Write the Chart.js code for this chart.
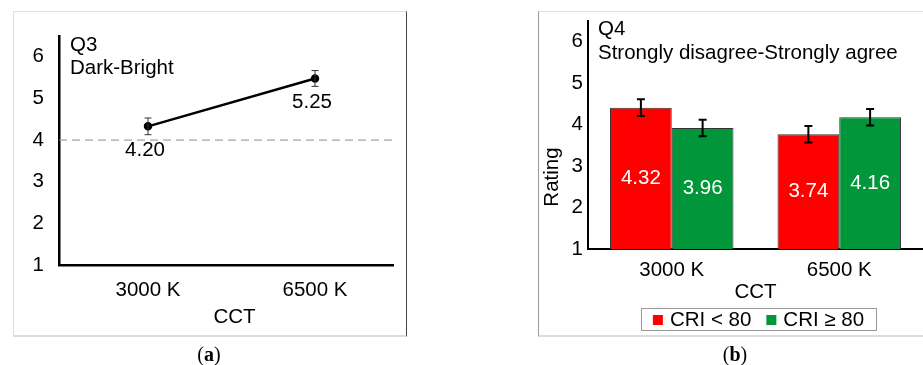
<!DOCTYPE html>
<html>
<head>
<meta charset="utf-8">
<script src="https://cdn.jsdelivr.net/npm/chart.js@4.4.0/dist/chart.umd.min.js"></script>
<style>
body { margin: 0; background: #fff; }
#page { position: relative; width: 923px; height: 365px; overflow: hidden; }
.box { position: absolute; box-sizing: border-box; }
#boxA { left: 13px; top: 11px; width: 394px; height: 326px; border-left: 1px solid #e0e0e0; border-top: 1px solid #e0e0e0; border-right: 1px solid #444; border-bottom: 2px solid #dcdcdc; }
#boxB { left: 538px; top: 11px; width: 400px; height: 326px; border-left: 1px solid #999; border-top: 1px solid #e0e0e0; border-bottom: 2px solid #dcdcdc; }
canvas { position: absolute; top: 0; }
#chartA { left: 0; }
#chartB { left: 520px; }
.cap { position: absolute; top: 343px; transform: translateX(-50%); font-family: "Liberation Serif", "Times New Roman", serif; font-size: 20px; line-height: 23px; }
</style>
</head>
<body>
<div id="page">
  <div class="box" id="boxA"></div>
  <div class="box" id="boxB"></div>
  <canvas id="chartA" width="410" height="345"></canvas>
  <canvas id="chartB" width="403" height="345"></canvas>
  <div class="cap" style="left:209px">(<b>a</b>)</div>
  <div class="cap" style="left:735px">(<b>b</b>)</div>
</div>
<script>
const categories = ['3000 K', '6500 K'];
const yTicks = [1, 2, 3, 4, 5, 6];

// (a) Q3 Dark-Bright
const q3Means = [4.33, 5.48];
const q3Errors = [0.2, 0.19];
const q3Labels = ['4.20', '5.25'];
const q3Neutral = 4;

// (b) Q4 Strongly disagree-Strongly agree
const seriesNames = ['CRI < 80', 'CRI ≥ 80'];
const criLow = [4.41, 3.77];
const criHigh = [3.92, 4.18];
const criLowErrors = [0.2, 0.2];
const criHighErrors = [0.2, 0.2];
const criLowLabels = ['4.32', '3.74'];
const criHighLabels = ['3.96', '4.16'];

Chart.defaults.font.family = '"Liberation Sans", Arial, sans-serif';
Chart.defaults.font.size = 20.5;
Chart.defaults.color = '#000';

const FONT = '20.5px "Liberation Sans", Arial, sans-serif';

// error bars from dataset.errors
const errorBars = {
  id: 'errorBars',
  afterDatasetsDraw(chart, args, opts) {
    const ctx = chart.ctx;
    const y = chart.scales.y;
    chart.data.datasets.forEach((ds, i) => {
      if (!ds.errors) return;
      chart.getDatasetMeta(i).data.forEach((el, j) => {
        const v = typeof ds.data[j] === 'object' ? ds.data[j].y : ds.data[j];
        const top = y.getPixelForValue(v + ds.errors[j]);
        const bot = y.getPixelForValue(v - ds.errors[j]);
        ctx.save();
        ctx.strokeStyle = opts.color;
        ctx.lineWidth = opts.width;
        ctx.beginPath();
        ctx.moveTo(el.x, top); ctx.lineTo(el.x, bot);
        ctx.moveTo(el.x - opts.cap, top); ctx.lineTo(el.x + opts.cap, top);
        ctx.moveTo(el.x - opts.cap, bot); ctx.lineTo(el.x + opts.cap, bot);
        ctx.stroke();
        ctx.restore();
      });
    });
  }
};

// printed values next to points / inside bars
const valueLabels = {
  id: 'valueLabels',
  afterDatasetsDraw(chart, args, opts) {
    const ctx = chart.ctx;
    chart.data.datasets.forEach((ds, i) => {
      if (!ds.valueLabels) return;
      chart.getDatasetMeta(i).data.forEach((el, j) => {
        ctx.save();
        ctx.font = FONT;
        ctx.fillStyle = opts.color;
        ctx.textAlign = 'center';
        ctx.textBaseline = 'middle';
        let tx, ty;
        if (opts.mode === 'center') {
          tx = el.x;
          ty = (el.y + Math.min(el.base, chart.chartArea.bottom)) / 2;
        } else {
          tx = el.x - 3;
          ty = el.y + 24;
        }
        ctx.fillText(ds.valueLabels[j], tx, ty);
        ctx.restore();
      });
    });
  }
};

// question text in the top left of the plot, plus hand-placed axis titles
const notes = {
  id: 'notes',
  afterDraw(chart, args, opts) {
    const ctx = chart.ctx;
    ctx.save();
    ctx.font = FONT;
    ctx.fillStyle = '#000';
    ctx.textBaseline = 'middle';
    opts.lines.forEach((t, k) => ctx.fillText(t, chart.chartArea.left + opts.dx, opts.y[k]));
    if (opts.xTitle) {
      const xs = chart.scales.x;
      const mid = (xs.getPixelForValue(0) + xs.getPixelForValue(1)) / 2 + opts.xTitle.dx;
      ctx.textAlign = 'center';
      ctx.fillText(opts.xTitle.text, mid, opts.xTitle.y);
    }
    if (opts.yTitle) {
      ctx.translate(opts.yTitle.x, opts.yTitle.y);
      ctx.rotate(-Math.PI / 2);
      ctx.textAlign = 'center';
      ctx.fillText(opts.yTitle.text, 0, 0);
    }
    ctx.restore();
  }
};

const neutralLine = {
  id: 'neutralLine',
  beforeDatasetsDraw(chart, args, opts) {
    const ctx = chart.ctx;
    const yp = chart.scales.y.getPixelForValue(opts.value);
    ctx.save();
    ctx.strokeStyle = '#8c8c8c';
    ctx.lineWidth = 1;
    ctx.setLineDash([8, 5]);
    ctx.beginPath();
    ctx.moveTo(chart.chartArea.left, yp);
    ctx.lineTo(chart.chartArea.right, yp);
    ctx.stroke();
    ctx.restore();
  }
};

const boxLegend = {
  id: 'boxLegend',
  afterDraw(chart, args, opts) {
    const ctx = chart.ctx;
    ctx.save();
    ctx.font = FONT;
    const items = chart.data.datasets.map(ds => ({ text: ds.label, color: ds.backgroundColor, w: ctx.measureText(ds.label).width }));
    const pad = 12, sq = 10, gap = 7, between = 15;
    let total = pad * 2 + between * (items.length - 1);
    items.forEach(it => total += sq + gap + it.w);
    const cx = (chart.chartArea.left + chart.chartArea.right) / 2 + 3;
    let x = cx - total / 2;
    const top = opts.top, h = 22;
    ctx.strokeStyle = '#999';
    ctx.lineWidth = 1;
    ctx.strokeRect(Math.round(x) + 0.5, top + 0.5, Math.round(total), h);
    ctx.textBaseline = 'middle';
    x += pad;
    items.forEach(it => {
      ctx.fillStyle = it.color;
      ctx.fillRect(x, top + h / 2 - 4, sq, sq);
      x += sq + gap;
      ctx.fillStyle = '#000';
      ctx.fillText(it.text, x, top + h / 2 + 1);
      x += it.w + between;
    });
    ctx.restore();
  }
};

function yAxis(width, pad, lineW) {
  return {
    min: 1, max: 6.5,
    grid: { display: false, drawTicks: false },
    border: { color: '#000', width: lineW },
    ticks: { padding: pad, color: '#000' },
    afterBuildTicks(s) { s.ticks = yTicks.map(v => ({ value: v })); },
    afterFit(s) { s.width = width; }
  };
}

new Chart(document.getElementById('chartA'), {
  type: 'line',
  data: {
    datasets: [{
      data: q3Means.map((v, i) => ({ x: i, y: v })),
      errors: q3Errors,
      valueLabels: q3Labels,
      borderColor: '#000',
      borderWidth: 2.5,
      pointRadius: 3,
      pointBackgroundColor: '#000',
      pointBorderColor: '#000'
    }]
  },
  options: {
    responsive: false,
    animation: false,
    layout: { padding: { left: 0, top: 36, right: 17, bottom: 0 } },
    scales: {
      x: {
        type: 'linear',
        min: -0.533, max: 1.467,
        grid: { display: false, drawTicks: false },
        border: { color: '#000', width: 2.5 },
        ticks: { padding: 13, color: '#000', callback: v => categories[v] },
        afterBuildTicks(s) { s.ticks = categories.map((c, i) => ({ value: i })); },
        afterFit(s) { s.height = 80; }
      },
      y: yAxis(59, 15, 2.5)
    },
    plugins: {
      legend: { display: false },
      tooltip: { enabled: false },
      errorBars: { color: '#333', width: 1, cap: 3.5 },
      valueLabels: { color: '#000', mode: 'below' },
      notes: { lines: ['Q3', 'Dark-Bright'], dx: 11, y: [45, 68], xTitle: { text: 'CCT', dx: 3, y: 317 } },
      neutralLine: { value: q3Neutral }
    }
  },
  plugins: [neutralLine, errorBars, valueLabels, notes]
});

new Chart(document.getElementById('chartB'), {
  type: 'bar',
  data: {
    labels: categories,
    datasets: [
      { label: seriesNames[0], data: criLow, errors: criLowErrors, valueLabels: criLowLabels,
        backgroundColor: '#ff0000', borderColor: '#333', borderWidth: 1 },
      { label: seriesNames[1], data: criHigh, errors: criHighErrors, valueLabels: criHighLabels,
        backgroundColor: '#009639', borderColor: '#333', borderWidth: 1 }
    ]
  },
  options: {
    responsive: false,
    animation: false,
    categoryPercentage: 0.737,
    barPercentage: 1,
    layout: { padding: { left: 0, top: 21, right: 0, bottom: 40 } },
    scales: {
      x: {
        grid: { display: false, drawTicks: false },
        border: { color: '#000', width: 2 },
        ticks: { padding: 9, color: '#000' },
        title: { display: true, text: 'CCT', color: '#000', padding: { top: 0, bottom: 0 } },
        afterFit(s) { s.height = 56; }
      },
      y: yAxis(68, 5, 2)
    },
    plugins: {
      legend: { display: false },
      tooltip: { enabled: false },
      errorBars: { color: '#000', width: 2, cap: 4 },
      valueLabels: { color: '#fff', mode: 'center' },
      notes: { lines: ['Q4', 'Strongly disagree-Strongly agree'], dx: 10, y: [29, 53],
               yTitle: { text: 'Rating', x: 32, y: 177 } },
      boxLegend: { top: 308 }
    }
  },
  plugins: [errorBars, valueLabels, notes, boxLegend]
});
</script>
</body>
</html>
